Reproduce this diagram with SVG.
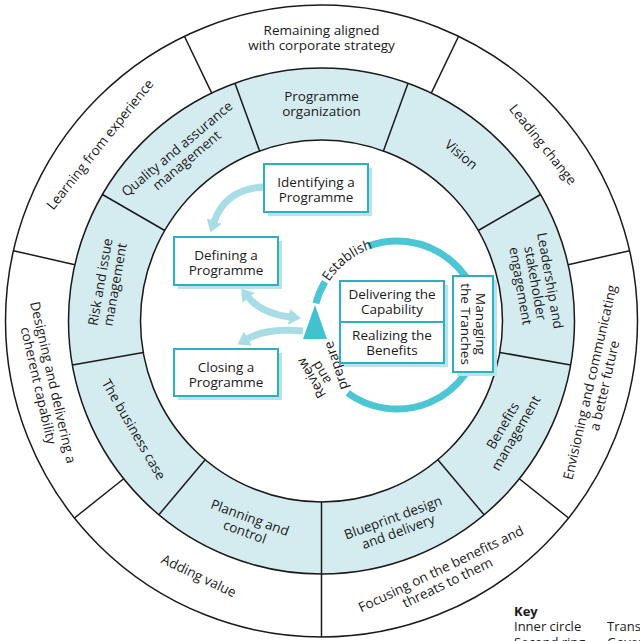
<svg xmlns="http://www.w3.org/2000/svg" width="640" height="641" viewBox="0 0 640 641">
<style>
text{font-family:"Open Sans","Noto Sans","Liberation Sans",sans-serif;font-size:13.5px;fill:#1a1a1a;text-anchor:middle}
.ring{stroke:#1a1a1a;stroke-width:1.5}
.div{stroke:#1a1a1a;stroke-width:1.5}
.box{fill:#fff;stroke:#2ab0c2;stroke-width:2}
.shadow{fill:#b8e3ea}
.cyc{fill:none;stroke:#4cc6d4;stroke-width:7}
.la{fill:none;stroke:#a8dde5;stroke-width:7}
.key{text-anchor:start;font-size:13px}
</style>
<defs>
<marker id="ah" viewBox="0 0 12 16" refX="1" refY="8" markerWidth="12" markerHeight="16" markerUnits="userSpaceOnUse" orient="auto-start-reverse"><path d="M0,0 L12,8 L0,16 z" fill="#a8dde5"/></marker>
<path id="estPath" d="M321.4,297.5 A80.5,80.5 0 0 1 390,244.8"/>
</defs>
<rect width="640" height="641" fill="#fff"/>
<g id="rings" transform="translate(321.5,321)">
<circle r="316" fill="#fff" class="ring"/>
<circle r="253" fill="#d4ecf0" class="ring"/>
<circle r="181" fill="#fff" class="ring"/>
<g class="div">
<line x1="0" y1="-253" x2="0" y2="-316" transform="rotate(25.714)"/>
<line x1="0" y1="-253" x2="0" y2="-316" transform="rotate(77.143)"/>
<line x1="0" y1="-253" x2="0" y2="-316" transform="rotate(128.571)"/>
<line x1="0" y1="-253" x2="0" y2="-316" transform="rotate(180)"/>
<line x1="0" y1="-253" x2="0" y2="-316" transform="rotate(231.429)"/>
<line x1="0" y1="-253" x2="0" y2="-316" transform="rotate(282.857)"/>
<line x1="0" y1="-253" x2="0" y2="-316" transform="rotate(334.286)"/>
<line x1="0" y1="-181" x2="0" y2="-253" transform="rotate(20)"/>
<line x1="0" y1="-181" x2="0" y2="-253" transform="rotate(60)"/>
<line x1="0" y1="-181" x2="0" y2="-253" transform="rotate(100)"/>
<line x1="0" y1="-181" x2="0" y2="-253" transform="rotate(140)"/>
<line x1="0" y1="-181" x2="0" y2="-253" transform="rotate(180)"/>
<line x1="0" y1="-181" x2="0" y2="-253" transform="rotate(220)"/>
<line x1="0" y1="-181" x2="0" y2="-253" transform="rotate(260)"/>
<line x1="0" y1="-181" x2="0" y2="-253" transform="rotate(300)"/>
<line x1="0" y1="-181" x2="0" y2="-253" transform="rotate(340)"/>
</g>
<g id="outer-labels">
<text transform="rotate(0) translate(0,-283)"><tspan x="0" y="-3">Remaining aligned</tspan><tspan x="0" y="12">with corporate strategy</tspan></text>
<text transform="rotate(51.43) translate(0,-283)"><tspan x="0" y="4.5">Leading change</tspan></text>
<text transform="rotate(102.86) translate(0,-283) rotate(180)"><tspan x="0" y="-3">Envisioning and communicating</tspan><tspan x="0" y="12">a better future</tspan></text>
<text transform="rotate(154.29) translate(0,-283) rotate(180)"><tspan x="0" y="-3">Focusing on the benefits and</tspan><tspan x="0" y="12">threats to them</tspan></text>
<text transform="rotate(205.71) translate(0,-283) rotate(180)"><tspan x="0" y="4.5">Adding value</tspan></text>
<text transform="rotate(257.14) translate(0,-283) rotate(180)"><tspan x="0" y="-3">Designing and delivering a</tspan><tspan x="0" y="12">coherent capability</tspan></text>
<text transform="rotate(308.57) translate(0,-283)"><tspan x="0" y="4.5">Learning from experience</tspan></text>
</g>
<g id="ring-labels">
<text transform="rotate(0) translate(0,-217)"><tspan x="0" y="-3">Programme</tspan><tspan x="0" y="12">organization</tspan></text>
<text transform="rotate(40) translate(0,-217)"><tspan x="0" y="4.5">Vision</tspan></text>
<text transform="rotate(80) translate(0,-217)"><tspan x="0" y="-10.5">Leadership and</tspan><tspan x="0" y="4.5">stakeholder</tspan><tspan x="0" y="19.5">engagement</tspan></text>
<text transform="rotate(120) translate(0,-217) rotate(180)"><tspan x="0" y="-3">Benefits</tspan><tspan x="0" y="12">management</tspan></text>
<text transform="rotate(160) translate(0,-217) rotate(180)"><tspan x="0" y="-3">Blueprint design</tspan><tspan x="0" y="12">and delivery</tspan></text>
<text transform="rotate(200) translate(0,-217) rotate(180)"><tspan x="0" y="-3">Planning and</tspan><tspan x="0" y="12">control</tspan></text>
<text transform="rotate(240) translate(0,-217) rotate(180)"><tspan x="0" y="4.5">The business case</tspan></text>
<text transform="rotate(280) translate(0,-217)"><tspan x="0" y="-3">Risk and issue</tspan><tspan x="0" y="12">management</tspan></text>
<text transform="rotate(320) translate(0,-217)"><tspan x="0" y="-3">Quality and assurance</tspan><tspan x="0" y="12">management</tspan></text>
</g>
</g>
<g id="connectors">
<path class="la" d="M264,187 C240,188 222,199 214,222" marker-end="url(#ah)"/>
<path class="la" d="M248,297 Q262,314 290,317" marker-start="url(#ah)" marker-end="url(#ah)"/>
<path class="la" d="M303,331 Q266,328 247,339" marker-end="url(#ah)"/>
<path class="cyc" d="M368.3,246.1 A84,84 0 1 1 347.6,393"/>
<path class="cyc" d="M315.9,303.3 A84,84 0 0 1 325,281.7"/>
<polygon points="315,305 303,339 327,339" fill="#40c2d1"/>
</g>
<g id="cycle-labels">
<text><textPath href="#estPath" startOffset="50%">Establish</textPath></text>
<text transform="translate(311.5,378) rotate(-120)" y="4.5">Review</text>
<text transform="translate(321.5,372.5) rotate(-120)" y="4.5">and</text>
<text transform="translate(336,365.5) rotate(-108)" y="4.5">prepare</text>
</g>
<g id="identifying">
<rect class="shadow" x="268" y="168" width="104" height="48"/>
<rect class="box" x="264" y="164" width="104" height="48"/>
<text><tspan x="316" y="187">Identifying a</tspan><tspan x="316" y="202">Programme</tspan></text>
</g>
<g id="defining">
<rect class="shadow" x="178" y="241" width="104" height="48"/>
<rect class="box" x="174" y="237" width="104" height="48"/>
<text><tspan x="226" y="260">Defining a</tspan><tspan x="226" y="275">Programme</tspan></text>
</g>
<g id="closing">
<rect class="shadow" x="178" y="353" width="104" height="47"/>
<rect class="box" x="174" y="349" width="104" height="47"/>
<text><tspan x="226" y="372">Closing a</tspan><tspan x="226" y="387">Programme</tspan></text>
</g>
<g id="delivering-realizing">
<rect class="shadow" x="344" y="285" width="104" height="82"/>
<rect class="box" x="340" y="281" width="104" height="41"/>
<rect class="box" x="340" y="322" width="104" height="41"/>
<text><tspan x="392" y="299">Delivering the</tspan><tspan x="392" y="314">Capability</tspan></text>
<text><tspan x="392" y="340">Realizing the</tspan><tspan x="392" y="355">Benefits</tspan></text>
</g>
<g id="managing">
<rect class="shadow" x="457" y="280" width="40" height="96"/>
<rect class="box" x="453" y="276" width="40" height="96"/>
<text transform="translate(473,324) rotate(90)"><tspan x="0" y="-3">Managing</tspan><tspan x="0" y="12">the Tranches</tspan></text>
</g>
<g id="key">
<text class="key" x="514" y="616" style="font-weight:bold">Key</text>
<text class="key" x="514" y="631">Inner circle</text>
<text class="key" x="607" y="631">Transformational flow</text>
<text class="key" x="514" y="647">Second ring</text>
<text class="key" x="607" y="647">Governance themes</text>
</g>
</svg>
